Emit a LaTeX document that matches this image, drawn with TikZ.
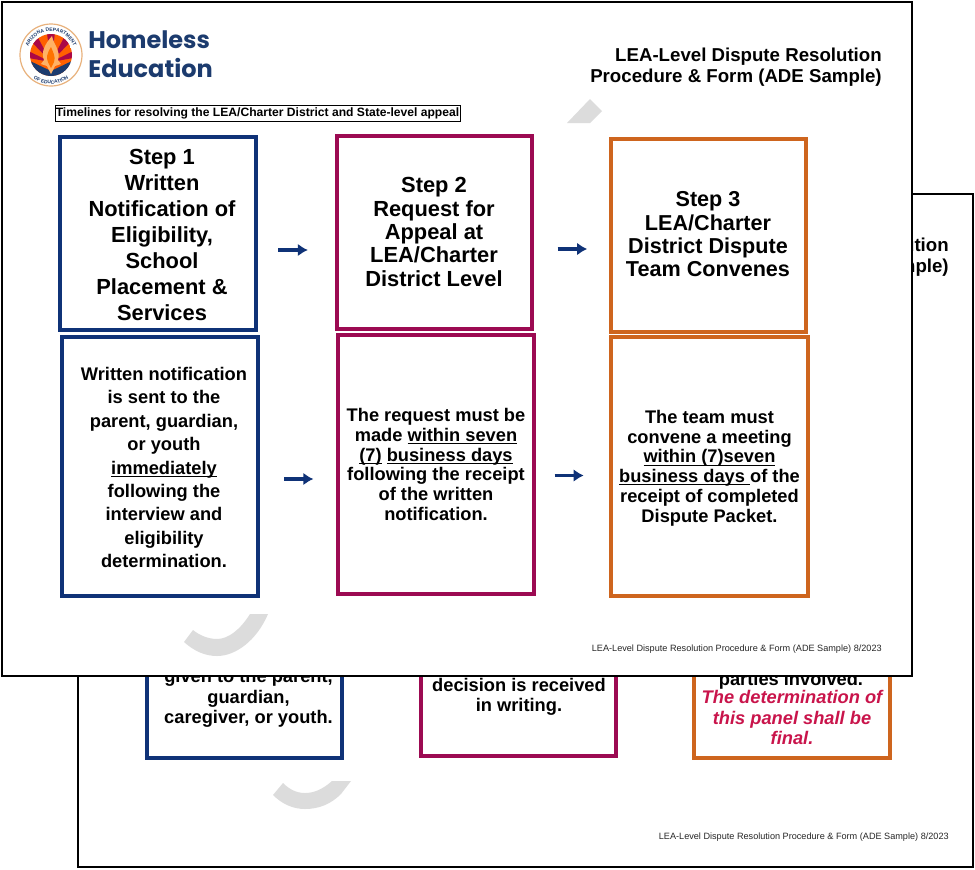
\documentclass[tikz,border=0pt]{standalone}
\usepackage{fontspec}
\setmainfont{Liberation Sans}
\newfontfamily\popfont{Poppins}
\usetikzlibrary{calc,decorations.text,arrows.meta}
\definecolor{navyc}{HTML}{0F3277}
\definecolor{maroonc}{HTML}{9C0A52}
\definecolor{orangec}{HTML}{CE651E}
\definecolor{redt}{HTML}{C9144B}
\definecolor{logob}{HTML}{1C3B6E}
\definecolor{wm}{HTML}{DCDCDC}
\newcommand{\fs}[2]{\fontsize{#1}{#2}\selectfont\bfseries}
\newcommand{\ulin}[1]{\setbox0=\hbox{#1}\leavevmode\rlap{\rule[-2pt]{\wd0}{0.75pt}}\box0 }
% #1 left pad, #2 top pad, #3 bottom pad, #4 width, #5 text
\newcommand{\shifted}[5]{\hspace*{#1}\parbox[c]{#4}{\vspace*{#2}\centering #5\par\vspace*{#3}}}
\tikzset{
  page/.style={draw=black,line width=1.6pt,fill=white},
  cardb/.style={draw=navyc,line width=3pt,align=center,inner sep=0pt,fill=white},
  cardm/.style={draw=maroonc,line width=3pt,align=center,inner sep=0pt,fill=white},
  cardo/.style={draw=orangec,line width=3pt,align=center,inner sep=0pt,fill=white},
  flow/.style={draw=navyc,line width=2.4pt,-{Latex[length=7.5pt,width=9.5pt]}},
  head/.style={font=\fs{14}{15.75},align=right,anchor=east,inner sep=0pt},
  foot/.style={font=\fontsize{6.85}{8}\selectfont,anchor=east,inner sep=0pt,text=black!85},
  wmark/.style={fill=wm,draw=none},
  backtxt/.style={font=\fs{13.7}{15.4},align=center,inner sep=0pt},
  sealtxt/.style={decorate,decoration={text along path,text align=center,text color=logob,text={|\fontsize{3.7}{4}\selectfont\bfseries|#1}}}
}
\begin{document}
\begin{tikzpicture}[x=0.75pt,y=-0.75pt]
\useasboundingbox (0,0) rectangle (975,869);
% ---------- back page
\path[page] (78,194) rectangle (973,867);
\fill[wmark] (351,781) -- (332,781) .. controls (322,790) and (313,793) .. (305,793)
  .. controls (296,793) and (289,789) .. (283,783) -- (273,795)
  .. controls (282,804) and (293,809) .. (305,809) .. controls (319,809) and (331,804) .. (341,794) -- cycle;
\node[head] (bh) at (949,257.5) {LEA-Level Dispute Resolution\\Procedure \& Form (ADE Sample)};
\node[foot] (bf) at (949,837) {LEA-Level Dispute Resolution Procedure \& Form (ADE Sample) 8/2023};
\node[cardb,minimum width=195*0.75pt,minimum height=200*0.75pt] (b4) at (244.5,658) {};
\node[cardm,minimum width=195*0.75pt,minimum height=200*0.75pt] (b5) at (518.5,656) {};
\node[cardo,minimum width=196*0.75pt,minimum height=200*0.75pt] (b6) at (792,658) {};
\node[backtxt,anchor=south] (t4) at (248.5,728) {given to the parent,\\guardian,\\caregiver, or youth.};
\node[backtxt,anchor=south] (t5) at (519,716) {decision is received\\in writing.};
\node[backtxt,anchor=south] (t6) at (791,689.5) {parties involved.};
\node[backtxt,font=\fs{13.7}{15.4}\itshape,text=redt,anchor=north] (t7) at (792,690) {The determination of\\this panel shall be\\final.};
% ---------- front page
\path[page] (2,2) rectangle (912,676);
\fill[wmark] (590,99) -- (602,111) -- (590,123) -- (567,123) -- cycle;
\fill[wmark] (268,614) -- (250,614) .. controls (240,630) and (228,639) .. (217,639)
  .. controls (208,639) and (199,635) .. (193,630) -- (184,642)
  .. controls (194,651) and (205,656) .. (217,656) .. controls (236,656) and (257,640) .. (268,614) -- cycle;
% seal
\coordinate (seal) at (51,55);
\fill[white,draw=orange!40!brown!60,line width=0.9pt] (seal) circle (31);
\begin{scope}
\clip (seal) circle (21);
\fill[orange!75!red] (seal) circle (21);
\foreach \a in {-162,-126,-90,-54,-18}{\fill[maroonc!85!red] (51,62) -- ++({\a-8}:40) -- ++({\a+90}:11) -- cycle;}
\fill[logob] (28,60) -- (51,71) -- (74,60) -- (74,80) -- (28,80) -- cycle;
\end{scope}
\fill[orange!60!white] (52,36) .. controls (44,45) and (41,53) .. (44,60) -- (41,64) -- (47,66) -- (51,74) -- (55,66) -- (61,64) -- (58,60) .. controls (61,50) and (54,46) .. (52,36) -- cycle;
\fill[orange!90!red] (51,47) .. controls (47,53) and (46,58) .. (48,62) -- (51,68) -- (54,62) .. controls (56,57) and (53,52) .. (51,47) -- cycle;
\path[sealtxt={ARIZONA DEPARTMENT}] (27,55) arc (180:360:24);
\path[sealtxt={OF EDUCATION}] (22,55) arc (180:0:29);
% logo words
\node[font=\popfont\bfseries\fontsize{18}{22}\selectfont,text=logob,anchor=west,inner sep=0pt,align=left] (logo) at (88,54.5) {Homeless\\Education};
\node[head] (fh) at (882,67) {LEA-Level Dispute Resolution\\Procedure \& Form (ADE Sample)};
\node[draw=black,line width=0.6pt,inner sep=0pt,font=\fs{9.08}{10},minimum width=405*0.75pt,minimum height=16*0.75pt] (tl) at (257.5,113.5) {Timelines for resolving the LEA/Charter District and State-level appeal};
\node[foot] (ff) at (882,649.5) {LEA-Level Dispute Resolution Procedure \& Form (ADE Sample) 8/2023};
% cards
\node[cardb,font=\fs{16.4}{19.6},minimum width=196*0.75pt,minimum height=193*0.75pt] (s1) at (158,233.5) {\shifted{6pt}{2.2pt}{0pt}{130pt}{Step 1\\Written\\Notification of\\Eligibility,\\School\\Placement \&\\Services}};
\node[cardm,font=\fs{16.4}{17.5},minimum width=195*0.75pt,minimum height=193*0.75pt] (s2) at (434,232) {Step 2\\Request for\\Appeal at\\LEA/Charter\\District Level};
\node[cardo,font=\fs{16.2}{17.5},minimum width=195*0.75pt,minimum height=193*0.75pt] (s3) at (708,235.5) {\shifted{0pt}{0pt}{1.5pt}{135pt}{Step 3\\LEA/Charter\\District Dispute\\Team Convenes}};
\node[cardb,font=\fs{13.7}{17.6},minimum width=196*0.75pt,minimum height=259*0.75pt] (d1) at (160,466.5) {\shifted{6pt}{1.5pt}{0pt}{130pt}{Written notification\\is sent to the\\parent, guardian,\\or youth\\\ulin{immediately}\\following the\\interview and\\eligibility\\determination.}};
\node[cardm,font=\fs{13.7}{14.8},minimum width=196*0.75pt,minimum height=259*0.75pt] (d2) at (436,464.5) {The request must be\\made \ulin{within seven}\\\ulin{(7)}\ \ulin{business days}\\following the receipt\\of the written\\notification.};
\node[cardo,font=\fs{13.7}{14.8},minimum width=197*0.75pt,minimum height=259*0.75pt] (d3) at (709.5,466.5) {\shifted{0pt}{2.2pt}{0pt}{140pt}{The team must\\convene a meeting\\\ulin{within (7)seven}\\\ulin{business days\ }of the\\receipt of completed\\Dispute Packet.}};
% arrows
\draw[flow,shorten <=15pt,shorten >=20pt] ([yshift=-12.375pt]s1.east) -- ([yshift=-13.5pt]s2.west);
\draw[flow,shorten <=18pt,shorten >=16pt] ([yshift=-12.75pt]s2.east) -- ([yshift=-10.125pt]s3.west);
\draw[flow,shorten <=18pt,shorten >=17pt] ([yshift=-9.375pt]d1.east) -- ([yshift=-10.875pt]d2.west);
\draw[flow,shorten <=14pt,shorten >=19pt] ([yshift=-8.25pt]d2.east) -- ([yshift=-6.75pt]d3.west);
\end{tikzpicture}
\end{document}
